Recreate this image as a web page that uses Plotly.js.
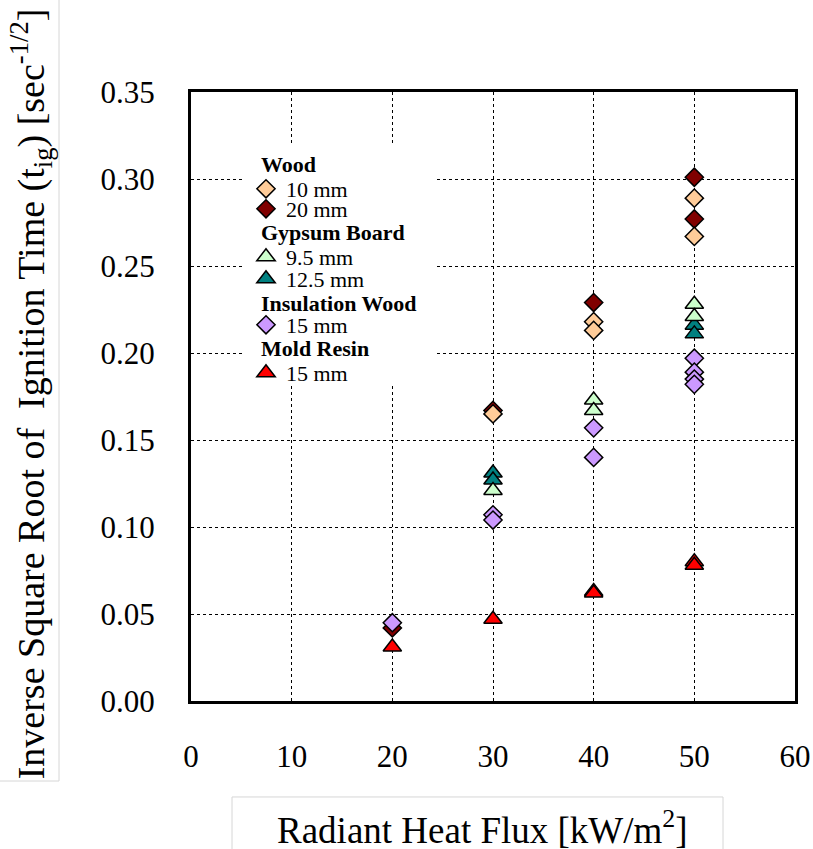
<!DOCTYPE html>
<html>
<head>
<meta charset="utf-8">
<script src="https://cdn.plot.ly/plotly-3.0.1.min.js"></script>
<style>
  html, body { margin: 0; padding: 0; background: #ffffff; }
  #chart { width: 813px; height: 849px; }
</style>
</head>
<body>
<div id="chart"></div>
<script>
// Radiant heat flux [kW/m2] and inverse square root of ignition time [sec^-1/2]
const fluxWood10 = [30, 40, 40, 50, 50];
const invWood10 = [0.165, 0.218, 0.213, 0.289, 0.267];

const fluxWood20 = [20, 30, 40, 50, 50];
const invWood20 = [0.042, 0.167, 0.229, 0.301, 0.277];

const fluxGyp95 = [30, 40, 40, 50, 50];
const invGyp95 = [0.121, 0.173, 0.167, 0.228, 0.221];

const fluxGyp125 = [30, 30, 50, 50];
const invGyp125 = [0.131, 0.127, 0.216, 0.211];

const fluxInsul15 = [20, 30, 30, 40, 40, 50, 50, 50, 50];
const invInsul15 = [0.045, 0.107, 0.104, 0.157, 0.140, 0.197, 0.189, 0.185, 0.182];

const fluxResin15 = [20, 30, 40, 40, 50, 50];
const invResin15 = [0.031, 0.047, 0.063, 0.062, 0.080, 0.078];

const xTickVals = [0, 10, 20, 30, 40, 50, 60];
const yTickVals = [0, 0.05, 0.10, 0.15, 0.20, 0.25, 0.30, 0.35];

// Material group headings shown in the key
const groupNames = ['Wood', 'Gypsum Board', 'Insulation Wood', 'Mold Resin'];

const serif = 'Liberation Serif, Times New Roman, serif';
const keySize = 22;
const outline = { color: '#000000', width: 1.5 };

// Plot box in pixels, used to place key rows
const W = 813, H = 849;
const M = { l: 191, r: 18, t: 92, b: 148 };
const plotW = W - M.l - M.r, plotH = H - M.t - M.b;
const px = v => (v - M.l) / plotW;
const py = v => (H - M.b - v) / plotH;

// key layout: left edge of key entries, and row centres (pixels)
const keyLeft = 246;
const headLeft = 259;
const headRows = [164, 232, 303, 348];
const itemRows = [189, 209, 257, 279, 325, 373];

function series(x, y, name, legendId, symbol, color, size) {
  return {
    type: 'scatter', mode: 'markers',
    x: x, y: y, name: name, legend: legendId,
    marker: { symbol: symbol, color: color, size: size, line: outline },
    hoverinfo: 'x+y+name'
  };
}

// Trace order sets drawing order (lighter sizes drawn over darker ones)
const traces = [
  series(fluxWood20, invWood20, '20 mm', 'legend2', 'diamond', '#800000', 14),
  series(fluxWood10, invWood10, '10 mm', 'legend', 'diamond', '#FFCC99', 14),
  series(fluxGyp125, invGyp125, '12.5 mm', 'legend4', 'triangle-up', '#008080', 16),
  series(fluxGyp95, invGyp95, '9.5 mm', 'legend3', 'triangle-up', '#CCFFCC', 16),
  series(fluxInsul15, invInsul15, '15 mm', 'legend5', 'diamond', '#CC99FF', 14),
  series(fluxResin15, invResin15, '15 mm', 'legend6', 'triangle-up', '#FF0000', 16)
];

const axisCommon = {
  showline: true, mirror: true, linecolor: '#000000', linewidth: 3,
  showgrid: true, gridcolor: '#000000', gridwidth: 1, griddash: '3px,3px',
  zeroline: false, ticks: '',
  tickfont: { family: serif, size: 31, color: '#000000' }
};

function keyBox(row) {
  return {
    x: px(keyLeft), y: py(row), xanchor: 'left', yanchor: 'middle',
    bgcolor: 'rgba(0,0,0,0)', borderwidth: 0,
    font: { family: serif, size: keySize, color: '#000000' },
    itemclick: false, itemdoubleclick: false
  };
}

const headings = groupNames.map((name, i) => ({
  xref: 'paper', yref: 'paper', x: px(headLeft), y: py(headRows[i]),
  xanchor: 'left', yanchor: 'middle', showarrow: false,
  text: '<b>' + name + '</b>',
  font: { family: serif, size: keySize, color: '#000000' }
}));

const layout = {
  width: W, height: H,
  margin: { l: M.l, r: M.r, t: M.t, b: M.b, pad: 0 },
  paper_bgcolor: '#ffffff', plot_bgcolor: '#ffffff',
  showlegend: true,
  xaxis: Object.assign({}, axisCommon, {
    range: [0, 60], tickmode: 'array', tickvals: xTickVals,
    ticklabelstandoff: 26
  }),
  yaxis: Object.assign({}, axisCommon, {
    range: [0, 0.35], tickmode: 'array', tickvals: yTickVals,
    tickformat: '.2f', ticklabelstandoff: 27
  }),
  legend: keyBox(itemRows[0]),
  legend2: keyBox(itemRows[1]),
  legend3: keyBox(itemRows[2]),
  legend4: keyBox(itemRows[3]),
  legend5: keyBox(itemRows[4]),
  legend6: keyBox(itemRows[5]),
  annotations: headings.concat([
    {
      xref: 'paper', yref: 'paper', x: 0.4818, y: -0.2085,
      xanchor: 'center', yanchor: 'middle', showarrow: false,
      text: 'Radiant Heat Flux [kW/m<sup>2</sup>]',
      font: { family: serif, size: 37, color: '#000000' }
    },
    {
      xref: 'paper', yref: 'paper', x: -0.2635, y: 0.505,
      xanchor: 'center', yanchor: 'middle', showarrow: false, textangle: -90,
      text: 'Inverse Square Root of\u00a0 Ignition Time (t<sub>ig</sub>) [sec<sup>-1/2</sup>]',
      font: { family: serif, size: 38, color: '#000000' }
    }
  ]),
  shapes: [
    // white panel behind the key
    { type: 'rect', xref: 'paper', yref: 'paper',
      x0: px(245), x1: px(436), y0: py(386), y1: py(146),
      line: { width: 0 }, fillcolor: '#ffffff', layer: 'above' },
    // frames around the two axis titles
    { type: 'rect', xref: 'paper', yref: 'paper', x0: -0.333, x1: -0.2185, y0: -0.1314, y1: 1.17,
      line: { color: '#d6d6d6', width: 1 }, fillcolor: 'rgba(0,0,0,0)', layer: 'below' },
    { type: 'rect', xref: 'paper', yref: 'paper', x0: 0.0679, x1: 0.8808, y0: -0.1576, y1: -0.27,
      line: { color: '#d6d6d6', width: 1 }, fillcolor: 'rgba(0,0,0,0)', layer: 'below' }
  ]
};

Plotly.newPlot('chart', traces, layout, { displayModeBar: false, staticPlot: true });
</script>
</body>
</html>
